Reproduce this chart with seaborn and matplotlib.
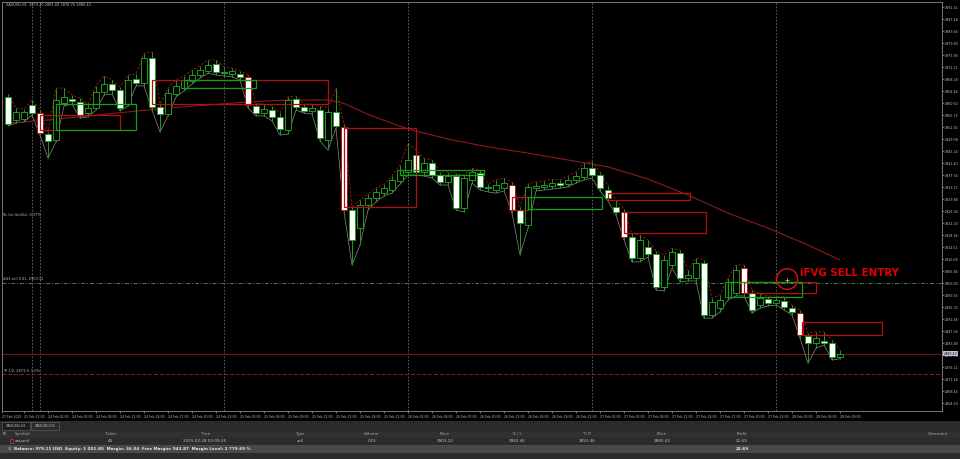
import numpy as np
import pandas as pd
import matplotlib
matplotlib.use('Agg')
import matplotlib.pyplot as plt
import matplotlib.patches as mpatches
import seaborn as sns

sns.set_theme(style='dark', rc={'axes.facecolor': 'black', 'figure.facecolor': 'black'})
plt.rcParams['font.family'] = ['DejaVu Sans']

# ── candle data (XAUUSD H1) ───────────────────────────────────────────────────
opens = [2962.6, 2955.2, 2955.5, 2960.0, 2957.4, 2950.7, 2948.8, 2960.6, 2961.8, 2961.0,
         2957.4, 2959.0, 2964.2, 2966.7, 2964.8, 2960.3, 2968.3, 2967.0, 2975.0, 2959.4,
         2957.1, 2963.5, 2965.4, 2967.7, 2969.6, 2970.9, 2973.1, 2970.6, 2969.9, 2969.9,
         2969.0, 2959.7, 2957.4, 2958.4, 2956.2, 2952.0, 2961.9, 2959.4, 2958.1, 2958.4,
         2948.8, 2957.8, 2953.0, 2926.4, 2920.6, 2928.0, 2930.2, 2931.8, 2932.8, 2935.7,
         2938.6, 2944.0, 2938.6, 2941.4, 2937.6, 2935.4, 2937.3, 2927.0, 2936.0, 2938.2,
         2933.6, 2932.8, 2933.4, 2934.4, 2926.4, 2921.6, 2933.6, 2933.8, 2934.1, 2935.0,
         2934.7, 2936.0, 2937.0, 2939.8, 2937.6, 2932.8, 2927.4, 2925.8, 2917.8, 2911.0,
         2914.6, 2912.3, 2901.8, 2908.8, 2912.6, 2904.6, 2904.6, 2909.4, 2892.8, 2895.0,
         2898.6, 2899.8, 2907.8, 2899.8, 2896.0, 2897.9, 2896.6, 2897.3, 2895.0, 2893.4,
         2886.1, 2883.8, 2884.5, 2883.8, 2879.4]
closes = [2953.9, 2957.8, 2957.8, 2957.4, 2951.0, 2948.5, 2961.6, 2962.6, 2961.4, 2956.8,
          2959.0, 2964.2, 2966.7, 2964.8, 2959.0, 2968.0, 2967.0, 2975.0, 2959.4, 2957.1,
          2963.8, 2966.1, 2968.0, 2969.6, 2971.2, 2972.8, 2970.6, 2970.2, 2970.9, 2969.0,
          2960.0, 2957.4, 2958.7, 2956.2, 2952.3, 2961.6, 2959.4, 2958.1, 2959.0, 2949.4,
          2957.8, 2953.3, 2926.4, 2916.8, 2928.0, 2930.2, 2932.2, 2933.4, 2936.0, 2939.2,
          2942.4, 2938.6, 2941.4, 2937.6, 2935.4, 2937.3, 2927.0, 2936.6, 2938.6, 2933.8,
          2933.3, 2934.4, 2935.0, 2926.4, 2922.2, 2933.8, 2933.9, 2934.4, 2935.0, 2934.4,
          2936.0, 2937.3, 2939.8, 2937.6, 2933.4, 2930.2, 2925.8, 2917.8, 2911.0, 2916.8,
          2912.3, 2901.8, 2910.4, 2913.0, 2904.6, 2905.6, 2909.4, 2892.8, 2897.0, 2897.6,
          2903.4, 2907.2, 2899.8, 2894.4, 2898.2, 2896.6, 2897.6, 2895.4, 2893.8, 2886.4,
          2883.8, 2885.4, 2884.0, 2879.4, 2880.43]
highs = [2963.5, 2959.0, 2958.7, 2961.6, 2958.4, 2951.4, 2965.4, 2965.4, 2963.2, 2962.2,
         2960.3, 2966.1, 2969.3, 2968.0, 2965.8, 2969.6, 2969.9, 2976.6, 2977.0, 2960.3,
         2965.4, 2968.0, 2969.3, 2971.2, 2972.5, 2974.4, 2974.4, 2972.2, 2971.8, 2970.9,
         2969.6, 2960.6, 2960.3, 2959.7, 2957.4, 2962.6, 2962.9, 2960.3, 2960.3, 2959.7,
         2959.0, 2965.4, 2953.9, 2927.4, 2929.6, 2931.5, 2933.4, 2934.7, 2937.3, 2940.8,
         2947.8, 2945.6, 2943.0, 2942.4, 2938.6, 2938.6, 2938.2, 2937.6, 2939.8, 2939.2,
         2934.7, 2936.0, 2936.6, 2935.4, 2927.4, 2934.7, 2935.4, 2935.7, 2936.3, 2936.0,
         2937.3, 2938.6, 2941.4, 2941.8, 2938.6, 2934.1, 2929.6, 2926.7, 2918.7, 2918.4,
         2916.8, 2913.3, 2912.0, 2914.2, 2913.6, 2907.2, 2911.0, 2910.4, 2898.2, 2899.2,
         2904.6, 2908.8, 2908.8, 2900.8, 2899.5, 2898.9, 2898.9, 2898.6, 2896.0, 2894.4,
         2887.0, 2887.4, 2887.4, 2884.8, 2881.6]
lows = [2953.3, 2954.2, 2954.6, 2956.8, 2950.4, 2943.0, 2948.2, 2959.7, 2960.3, 2955.8,
        2956.2, 2958.4, 2963.2, 2963.5, 2958.1, 2959.7, 2966.1, 2966.1, 2958.4, 2951.4,
        2956.5, 2962.6, 2964.5, 2966.7, 2968.6, 2970.2, 2969.6, 2969.3, 2969.0, 2968.0,
        2959.0, 2956.5, 2956.5, 2954.9, 2950.4, 2950.7, 2958.4, 2957.4, 2957.1, 2948.5,
        2945.6, 2952.6, 2925.8, 2908.8, 2915.2, 2926.4, 2929.0, 2930.9, 2931.8, 2934.7,
        2937.6, 2937.6, 2937.3, 2936.6, 2934.4, 2934.4, 2926.4, 2925.8, 2935.0, 2932.8,
        2932.2, 2931.8, 2932.5, 2925.4, 2912.0, 2920.6, 2932.5, 2932.8, 2933.1, 2933.4,
        2933.8, 2935.0, 2936.0, 2936.6, 2932.5, 2929.3, 2924.8, 2916.8, 2909.8, 2909.8,
        2911.4, 2900.8, 2900.5, 2907.8, 2903.4, 2903.7, 2903.7, 2891.8, 2891.8, 2893.8,
        2897.6, 2898.9, 2898.9, 2893.4, 2895.0, 2895.7, 2896.0, 2894.4, 2892.8, 2885.4,
        2877.4, 2882.2, 2883.2, 2878.4, 2878.8]
fvg_candles = [4, 30, 42, 63, 77, 92, 99]

# moving average (sampled)
ma_idx = [0, 5, 10, 15, 20, 25, 30, 35, 40, 42, 45, 50, 55, 60, 65, 70, 75, 80, 85, 90, 95, 100, 104]
ma_val = [2954.2, 2955.2, 2956.5, 2957.8, 2959.0, 2960.0, 2961.0, 2961.6, 2961.6, 2960.5, 2957.0,
          2952.3, 2949.1, 2946.6, 2944.6, 2942.4, 2940.2, 2936.3, 2931.2, 2925.4, 2920.6, 2915.2, 2910.4]

# FVG zones: start bar, end bar, top, bottom
red_x0 = [4, 18, 42, 63, 75, 77, 92, 99.25]
red_x1 = [14, 40, 51, 65, 85.25, 87.25, 101, 109.25]
red_top = [2956.8, 2968.0, 2952.6, 2930.6, 2931.8, 2925.8, 2903.4, 2890.6]
red_bot = [2952.0, 2960.3, 2927.4, 2926.4, 2929.6, 2919.0, 2899.8, 2886.4]
grn_x0 = [6, 22, 49, 65, 90]
grn_x1 = [16, 31, 59.5, 74.25, 99.25]
grn_top = [2960.3, 2968.0, 2939.2, 2930.6, 2903.4]
grn_bot = [2952.0, 2965.4, 2937.6, 2926.7, 2898.6]

separators = [3, 4, 27, 50, 73, 96]
entry_price = 2903.12
bid_price = 2880.43
tp_price = 2873.9
signal_bar, signal_price = 97.4, 2904.3

price_ticks = [2991.32, 2987.48, 2983.64, 2979.80, 2975.96, 2972.12, 2968.28, 2964.44, 2960.60,
               2956.76, 2952.92, 2949.08, 2945.24, 2941.40, 2937.56, 2933.72, 2929.88, 2926.04,
               2922.20, 2918.36, 2914.52, 2910.68, 2906.84, 2903.00, 2899.16, 2895.32, 2891.48,
               2887.64, 2883.80, 2879.96, 2876.12, 2872.28, 2868.44, 2864.60]
time_pos = [-0.75, 2, 5, 8, 11, 14, 17, 20, 23, 26, 29, 32, 35, 38, 41, 44, 47, 50, 53, 56,
            59, 62, 65, 68, 71, 74, 77, 80, 83, 86, 89, 92, 95, 98, 101, 104]
time_labels = ['21 Feb 2025', '21 Feb 22:00', '24 Feb 02:00', '24 Feb 05:00', '24 Feb 08:00',
               '24 Feb 11:00', '24 Feb 14:00', '24 Feb 17:00', '24 Feb 20:00', '24 Feb 23:00',
               '25 Feb 03:00', '25 Feb 06:00', '25 Feb 09:00', '25 Feb 12:00', '25 Feb 15:00',
               '25 Feb 18:00', '25 Feb 21:00', '26 Feb 01:00', '26 Feb 04:00', '26 Feb 07:00',
               '26 Feb 10:00', '26 Feb 13:00', '26 Feb 16:00', '26 Feb 19:00', '26 Feb 22:00',
               '27 Feb 02:00', '27 Feb 05:00', '27 Feb 08:00', '27 Feb 11:00', '27 Feb 14:00',
               '27 Feb 17:00', '27 Feb 20:00', '27 Feb 23:00', '28 Feb 03:00', '28 Feb 06:00',
               '28 Feb 09:00']

# terminal row
col_x = [15, 110, 205, 300, 372, 445, 517, 587, 662, 742, 948]
col_names = ['Symbol', 'Ticket', 'Time', 'Type', 'Volume', 'Price', 'S / L', 'T / P', 'Price', 'Profit', 'Comment']
row_vals = ['xauusd', '43', '2025.02.28 02:09:35', 'sell', '0.01', '2903.12', '2983.46', '2853.46', '2880.43', '22.69', '']
balance_text = 'Balance: 979.11 USD  Equity: 1 001.80  Margin: 36.04  Free Margin: 943.87  Margin Level: 2 779.69 %'

df = pd.DataFrame({'bar': np.arange(len(opens)), 'open': opens, 'high': highs, 'low': lows, 'close': closes})

GREEN = '#1f9a1f'
RED = '#b01010'
LBL = '#c0c0c0'
NARROW = dict(family=['DejaVu Sans'], fontstretch='condensed')

fig = plt.figure(figsize=(9.6, 4.59), dpi=100)
ax = fig.add_axes([2 / 960, 48 / 459, 940 / 960, 409 / 459])
ax.set_facecolor('black')
ax.grid(False)

# overlay lines
sns.lineplot(data=df, x='bar', y='high', ax=ax, color='#a81818', lw=0.6, ls=(0, (3, 2)), zorder=2)
sns.lineplot(data=df, x='bar', y='low', ax=ax, color='#8a8a8a', lw=0.5, zorder=2)
sns.lineplot(x=ma_idx, y=ma_val, ax=ax, color='#8b1a1a', lw=0.8, zorder=2)

# candles
for _, r in df.iterrows():
    i = r['bar']
    bull = r['close'] >= r['open']
    ax.vlines(i, r['low'], r['high'], color=GREEN, lw=0.7, zorder=3)
    lo = min(r['open'], r['close'])
    h = max(abs(r['close'] - r['open']), 0.35)
    edge = RED if i in fvg_candles else GREEN
    ax.bar(i, h, bottom=lo, width=0.64, color='black' if bull else 'white',
           edgecolor=edge, lw=0.7, zorder=4)

# FVG boxes
for x0, x1, t, b in zip(red_x0, red_x1, red_top, red_bot):
    ax.add_patch(mpatches.Rectangle((x0, b), x1 - x0, t - b, fill=False, ec=RED, lw=0.9, zorder=5))
for x0, x1, t, b in zip(grn_x0, grn_x1, grn_top, grn_bot):
    ax.add_patch(mpatches.Rectangle((x0, b), x1 - x0, t - b, fill=False, ec='#14a014', lw=0.9, zorder=5))

# separators and trade lines
for s in separators:
    ax.axvline(s, color='#6e6e6e', lw=0.6, ls=(0, (2, 2)), zorder=1)
ax.axhline(entry_price, color='#3f8a3f', lw=0.7, ls=(0, (4, 2, 1, 2)), zorder=1)
ax.axhline(bid_price, color='#7a1414', lw=0.8, zorder=1)
ax.axhline(tp_price, color='#b01010', lw=0.7, ls=(0, (4, 2)), zorder=1)

ax.text(-0.6, 2924.8, 'SL for Gold(s), 0.27%', fontsize=2.8, color=LBL, va='center', **NARROW)
ax.text(-0.6, entry_price + 0.4, '#43 sell 0.01, 2903.12', fontsize=2.8, color=LBL, va='bottom', **NARROW)
ax.text(-0.6, tp_price + 0.4, 'TP 1/2: 2873.9, 1.0%', fontsize=2.8, color=LBL, va='bottom', **NARROW)
ax.text(0.004, 0.997, 'XAUUSD,H1  2879.40 2881.60 2878.76 2880.43', transform=ax.transAxes,
        fontsize=2.8, color=LBL, va='top', **NARROW)

# signal marker
ax.add_patch(mpatches.Ellipse((signal_bar, signal_price), 2.6, 6.6, fill=False, ec='#e01010', lw=1.0, zorder=6))
ax.plot(signal_bar, signal_price - 0.3, marker='+', ms=3, color='#f0a080', mew=0.6, zorder=6)
ax.text(signal_bar + 1.55, signal_price + 1.9, 'iFVG SELL ENTRY', fontsize=8.2, fontweight='bold',
        family=['DejaVu Sans'], fontstretch='condensed', color='#e00000', va='center', ha='left', zorder=6)

# axes
ax.set_xlim(-0.75, 116.75)
ax.set_ylim(2862.08, 2992.96)
ax.yaxis.tick_right()
ax.set_yticks(price_ticks)
ax.set_yticklabels([f'{p:.2f}' for p in price_ticks], **NARROW)
ax.set_xticks(time_pos)
ax.set_xticklabels(time_labels, ha='left', **NARROW)
ax.tick_params(axis='y', labelsize=2.6, colors=LBL, length=1.5, width=0.4, pad=0.8, right=True)
ax.tick_params(axis='x', labelsize=2.5, colors=LBL, length=1.5, width=0.4, pad=1.5, bottom=True)
ax.set_xlabel('')
ax.set_ylabel('')
for side, sp in ax.spines.items():
    sp.set_visible(True)
    sp.set_color('#8a8a8a')
    sp.set_linewidth(0.6)
ax.text(1.002, bid_price, f'{bid_price:.2f}', transform=ax.get_yaxis_transform(), fontsize=2.6,
        color='black', va='center', ha='left',
        bbox=dict(boxstyle='square,pad=0.15', fc='#c4c4d4', ec='none'), clip_on=False, **NARROW)

# terminal panel
pan = fig.add_axes([0, 0, 1, 38 / 459])
pan.set_xlim(0, 960)
pan.set_ylim(459, 421)
pan.axis('off')
pan.add_patch(mpatches.Rectangle((0, 421), 960, 38, fc='#2b2b2b', ec='none'))
pan.add_patch(mpatches.Rectangle((2, 422), 28, 8, fc='#1c1c1c', ec='#5a5a5a', lw=0.5))
pan.add_patch(mpatches.Rectangle((31, 422), 28, 8, fc='#2b2b2b', ec='#5a5a5a', lw=0.5))
pan.text(16, 426, 'XAUUSD,H1', fontsize=2.8, color=LBL, ha='center', va='center', **NARROW)
pan.text(45, 426, 'XAUUSD,H4', fontsize=2.8, color=LBL, ha='center', va='center', **NARROW)
pan.add_patch(mpatches.Rectangle((0, 430.5), 960, 7, fc='#303030', ec='none'))
pan.add_patch(mpatches.Rectangle((0, 445), 960, 7.5, fc='#4a4a4a', ec='none'))
pan.text(4, 434, '×', fontsize=4, color=LBL, ha='center', va='center')
for x, name, val in zip(col_x, col_names, row_vals):
    ha = 'left' if x < 20 else ('right' if x > 900 else 'center')
    pan.text(x, 434, name, fontsize=3, color='#a8a8a8', ha=ha, va='center')
    if val:
        pan.text(x, 441, val, fontsize=3, color=LBL, ha=ha, va='center')
pan.add_patch(mpatches.Rectangle((10, 439), 3, 4, fc='none', ec='#d03030', lw=0.5))
pan.text(9.5, 448.8, '⊙', fontsize=3, color=LBL, ha='center', va='center')
pan.text(14, 448.8, balance_text, fontsize=3, color='#e8e8e8', ha='left', va='center', fontweight='bold')
pan.text(742, 448.8, '22.69', fontsize=3, color='#e8e8e8', ha='center', va='center', fontweight='bold')

fig.savefig('out.png', dpi=100, facecolor='black')
